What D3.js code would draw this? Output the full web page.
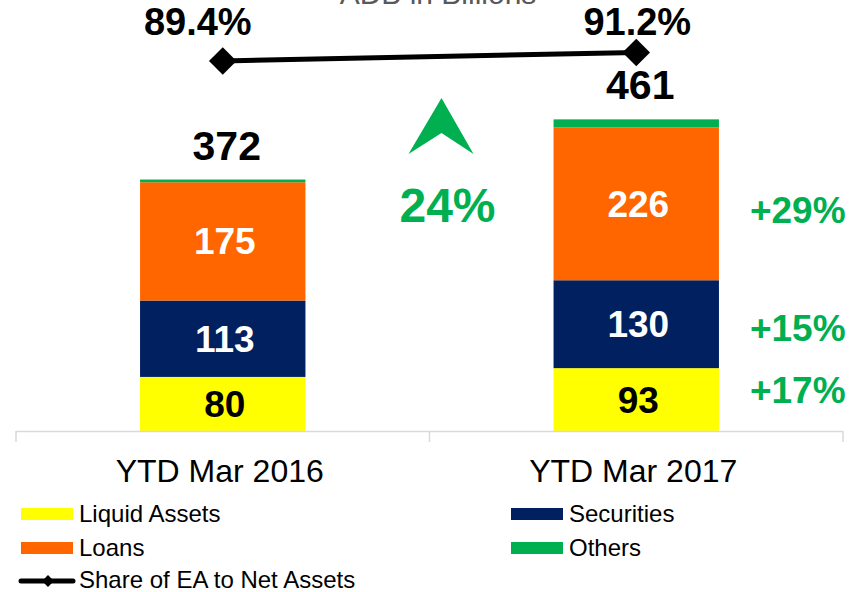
<!DOCTYPE html>
<html>
<head>
<meta charset="utf-8">
<script src="https://cdn.jsdelivr.net/npm/d3@7"></script>
<style>
  body { margin: 0; background: #fff; }
  text { font-family: "Liberation Sans", Arial, sans-serif; }
</style>
</head>
<body>
<div class="chart"></div>
<script>
// chart data
var categories = ["YTD Mar 2016", "YTD Mar 2017"];
var liquidAssets = [80, 93];
var securities = [113, 130];
var loans = [175, 226];
var others = [4, 12];
var totals = [372, 461];
var shareEA = [89.4, 91.2];
var growthLabels = ["+17%", "+15%", "+29%"]; // liquid, securities, loans
var totalGrowth = "24%";
var seriesNames = ["Liquid Assets", "Securities", "Loans", "Others"];
var lineName = "Share of EA to Net Assets";
var title = "ADB in Billions";

var colors = ["#FFFF00", "#002060", "#FF6600", "#00B050"];
var labelColors = ["#000", "#fff", "#fff", null];
var green = "#00B050";

var svgWidth = 861, svgHeight = 592;

var svg = d3.select(".chart")
  .append("svg")
  .attr("width", svgWidth)
  .attr("height", svgHeight);

// scales
var xBand = d3.scaleBand()
  .domain(categories)
  .range([16, 843])
  .padding(0);

var yScale = d3.scaleLinear()
  .domain([0, 500])
  .range([431, 93]);

var yLine = d3.scaleLinear()
  .domain([0, 100])
  .range([482, 11]);

var barWidth = xBand.bandwidth() * 0.4;
var cx = d => xBand(d) + xBand.bandwidth() / 2;

// stack the series
var rows = categories.map((c, i) => ({
  cat: c, s0: liquidAssets[i], s1: securities[i], s2: loans[i], s3: others[i]
}));
var stack = d3.stack().keys(["s0", "s1", "s2", "s3"]);
var stacked = stack(rows);

// title (cut off at top)
svg.append("text")
  .attr("x", 438)
  .attr("y", 4)
  .attr("text-anchor", "middle")
  .attr("font-size", 30)
  .attr("fill", "#595959")
  .text(title);

// bars
var layers = svg.selectAll(".layer")
  .data(stacked)
  .enter()
  .append("g")
  .attr("fill", (d, i) => colors[i]);

layers.selectAll("rect")
  .data(d => d)
  .enter()
  .append("rect")
  .attr("x", d => cx(d.data.cat) - barWidth / 2)
  .attr("width", barWidth)
  .attr("y", d => yScale(d[1]))
  .attr("height", d => yScale(d[0]) - yScale(d[1]));

// value labels inside bars
stacked.forEach(function(layer, li) {
  if (!labelColors[li]) return;
  svg.selectAll(".lbl" + li)
    .data(layer)
    .enter()
    .append("text")
    .attr("x", d => cx(d.data.cat) + 2)
    .attr("y", d => (yScale(d[0]) + yScale(d[1])) / 2 + 13)
    .attr("text-anchor", "middle")
    .attr("font-size", 37)
    .attr("font-weight", "bold")
    .attr("fill", labelColors[li])
    .text(d => d[1] - d[0]);
});

// totals above bars
svg.selectAll(".total")
  .data(totals)
  .enter()
  .append("text")
  .attr("x", (d, i) => cx(categories[i]) + 4)
  .attr("y", d => yScale(d) - 20)
  .attr("text-anchor", "middle")
  .attr("font-size", 41)
  .attr("font-weight", "bold")
  .attr("fill", "#000")
  .text(d => d);

// growth labels right of the 2017 bar
var last = categories[categories.length - 1];
var growthNudge = [3, 17, 19];
svg.selectAll(".growth")
  .data(growthLabels)
  .enter()
  .append("text")
  .attr("x", cx(last) + barWidth / 2 + 31)
  .attr("y", (d, i) => (yScale(stacked[i][1][0]) + yScale(stacked[i][1][1])) / 2 + growthNudge[i])
  .attr("font-size", 37)
  .attr("font-weight", "bold")
  .attr("fill", green)
  .text(d => d);

// up arrow and total growth
var midX = (cx(categories[0]) + cx(last)) / 2 + 12;
var ay = 98;
svg.append("path")
  .attr("d", `M${midX},${ay} L${midX + 32},${ay + 56} L${midX},${ay + 35} L${midX - 33},${ay + 56} Z`)
  .attr("fill", green);

svg.append("text")
  .attr("x", midX + 6)
  .attr("y", 222)
  .attr("text-anchor", "middle")
  .attr("font-size", 48)
  .attr("font-weight", "bold")
  .attr("fill", green)
  .text(totalGrowth);

// x axis
svg.append("line")
  .attr("x1", xBand.range()[0])
  .attr("x2", xBand.range()[1])
  .attr("y1", 431.5)
  .attr("y2", 431.5)
  .attr("stroke", "#d9d9d9")
  .attr("stroke-width", 1.5);

var tickXs = categories.map(c => xBand(c)).concat([xBand.range()[1]]);
svg.selectAll(".tick")
  .data(tickXs)
  .enter()
  .append("line")
  .attr("x1", d => d)
  .attr("x2", d => d)
  .attr("y1", 431)
  .attr("y2", 442)
  .attr("stroke", "#d9d9d9")
  .attr("stroke-width", 1.5);

svg.selectAll(".cat")
  .data(categories)
  .enter()
  .append("text")
  .attr("x", d => cx(d) - 3)
  .attr("y", 482)
  .attr("text-anchor", "middle")
  .attr("font-size", 32)
  .attr("fill", "#000")
  .text(d => d);

// share of EA line
var line = d3.line()
  .x((d, i) => cx(categories[i]))
  .y(d => yLine(d));

svg.append("path")
  .datum(shareEA)
  .attr("d", line)
  .attr("fill", "none")
  .attr("stroke", "#000")
  .attr("stroke-width", 5);

var diamond = d3.symbol().type(d3.symbolSquare).size(380);
svg.selectAll(".marker")
  .data(shareEA)
  .enter()
  .append("path")
  .attr("d", diamond)
  .attr("transform", (d, i) => `translate(${cx(categories[i])},${yLine(d)}) rotate(45)`)
  .attr("fill", "#000");

var pctShift = [-25, 1];
svg.selectAll(".pct")
  .data(shareEA)
  .enter()
  .append("text")
  .attr("x", (d, i) => cx(categories[i]) + pctShift[i])
  .attr("y", 35)
  .attr("text-anchor", "middle")
  .attr("font-size", 38)
  .attr("font-weight", "bold")
  .attr("fill", "#000")
  .text(d => d.toFixed(1) + "%");

// legend
var legendItems = [
  { name: seriesNames[0], color: colors[0], x: 21, y: 514 },
  { name: seriesNames[1], color: colors[1], x: 511, y: 514 },
  { name: seriesNames[2], color: colors[2], x: 21, y: 548 },
  { name: seriesNames[3], color: colors[3], x: 511, y: 548 }
];

var legend = svg.append("g");
legendItems.forEach(function(item) {
  legend.append("rect")
    .attr("x", item.x)
    .attr("y", item.y - 6)
    .attr("width", 52)
    .attr("height", 12)
    .attr("fill", item.color);
  legend.append("text")
    .attr("x", item.x + 58)
    .attr("y", item.y + 8)
    .attr("font-size", 24)
    .attr("fill", "#000")
    .text(item.name);
});

legend.append("line")
  .attr("x1", 21).attr("x2", 73)
  .attr("y1", 581).attr("y2", 581)
  .attr("stroke", "#000")
  .attr("stroke-width", 5)
  .attr("stroke-linecap", "round");
legend.append("path")
  .attr("d", d3.symbol().type(d3.symbolSquare).size(70))
  .attr("transform", "translate(48,581) rotate(45)")
  .attr("fill", "#000");
legend.append("text")
  .attr("x", 79)
  .attr("y", 588)
  .attr("font-size", 24)
  .attr("fill", "#000")
  .text(lineName);
</script>
</body>
</html>
